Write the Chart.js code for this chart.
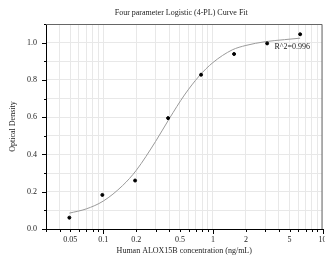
<!DOCTYPE html>
<html>
<head>
<meta charset="utf-8">
<script src="https://cdn.jsdelivr.net/npm/chart.js@4.4.1/dist/chart.umd.min.js"></script>
<style>
  html, body { margin: 0; padding: 0; background: #fff; }
  canvas { display: block; }
</style>
</head>
<body>
<canvas id="chart" width="325" height="266"></canvas>
<script>
// measured standards
const concentrations = [0.049, 0.098, 0.195, 0.39, 0.78, 1.56, 3.125, 6.25]
const odValues = [0.061, 0.183, 0.26, 0.595, 0.828, 0.939, 0.996, 1.045]

// fitted 4-PL curve
const curveX = [0.049, 0.07, 0.1, 0.15, 0.2, 0.3, 0.4, 0.55, 0.75, 1, 1.5, 2, 3, 4.5, 6.25]
const curveY = [0.085, 0.108, 0.15, 0.233, 0.315, 0.47, 0.592, 0.719, 0.821, 0.893, 0.961, 0.985, 1.005, 1.016, 1.024]

// axis ticks
const xGridValues = [0.03, 0.04, 0.05, 0.06, 0.07, 0.08, 0.09, 0.1, 0.2, 0.3, 0.4, 0.5, 0.6, 0.7, 0.8, 0.9,
  1, 2, 3, 4, 5, 6, 7, 8, 9, 10]
const xTickLabels = [0.05, 0.1, 0.2, 0.5, 1, 2, 5, 10]
const xDecades = [0.1, 1, 10]

const titleText = 'Four parameter Logistic (4-PL) Curve Fit'
const xTitle = 'Human ALOX15B concentration (ng/mL)'
const yTitle = 'Optical Density'
const r2Text = 'R^2=0.996'

const FONT = '"Liberation Serif", "Times New Roman", serif'
const TEXT = '#222'

const decorations = {
  id: 'decorations',
  afterDraw(chart) {
    const { ctx, chartArea: a, scales } = chart
    const x = scales.x, y = scales.y
    ctx.save()

    // frame
    ctx.strokeStyle = '#666'
    ctx.lineWidth = 1
    ctx.beginPath()
    ctx.moveTo(a.left, a.top + 0.5)
    ctx.lineTo(a.right - 0.5, a.top + 0.5)
    ctx.lineTo(a.right - 0.5, a.bottom)
    ctx.stroke()

    // tick marks, outside
    ctx.strokeStyle = '#000'
    ctx.beginPath()
    xGridValues.forEach(v => {
      const px = Math.round(x.getPixelForValue(v)) + 0.5
      const len = xDecades.includes(v) ? 5 : 3
      ctx.moveTo(px, a.bottom)
      ctx.lineTo(px, a.bottom + len)
    })
    y.ticks.forEach(t => {
      const py = Math.round(y.getPixelForValue(t.value)) + 0.5
      const major = Math.round(t.value * 10) % 2 === 0
      ctx.moveTo(a.left, py)
      ctx.lineTo(a.left - (major ? 4 : 2), py)
    })
    ctx.stroke()

    // title
    ctx.fillStyle = TEXT
    ctx.font = '8px ' + FONT
    ctx.textAlign = 'center'
    ctx.textBaseline = 'middle'
    ctx.fillText(titleText, (a.left + a.right) / 2 - 3, 13)

    // r squared
    ctx.textAlign = 'left'
    ctx.fillText(r2Text, a.right - 48, a.top + 23)
    ctx.restore()
  }
}

new Chart(document.getElementById('chart'), {
  type: 'scatter',
  data: {
    datasets: [
      {
        label: 'Standards',
        data: concentrations.map((c, i) => ({ x: c, y: odValues[i] })),
        backgroundColor: '#000',
        borderColor: '#000',
        pointRadius: 1.5,
        pointHoverRadius: 1.5,
        order: 1
      },
      {
        label: '4-PL fit',
        data: curveX.map((c, i) => ({ x: c, y: curveY[i] })),
        showLine: true,
        borderColor: '#9a9a9a',
        borderWidth: 1,
        pointRadius: 0,
        cubicInterpolationMode: 'monotone',
        order: 2
      }
    ]
  },
  options: {
    responsive: false,
    animation: false,
    layout: { padding: { top: 24, right: 2, left: 8, bottom: 10 } },
    plugins: {
      legend: { display: false },
      tooltip: { enabled: false },
      title: { display: false }
    },
    scales: {
      x: {
        type: 'logarithmic',
        min: 0.03,
        max: 10,
        afterBuildTicks: scale => {
          scale.ticks = xGridValues.map(v => ({ value: v }))
        },
        afterFit: scale => {
          scale.height = 27
          // let the "10" label run off the edge like the original
          scale.paddingRight = 0
          scale.paddingLeft = 0
        },
        ticks: {
          autoSkip: false,
          maxRotation: 0,
          padding: 6,
          color: TEXT,
          font: { family: FONT, size: 8 },
          callback: v => xTickLabels.includes(v) ? String(v) : ''
        },
        grid: { color: '#e8e8e8', lineWidth: 1, drawTicks: false },
        border: { display: true, color: '#000', width: 1 },
        title: {
          display: true,
          text: xTitle,
          color: TEXT,
          font: { family: FONT, size: 8 },
          padding: { top: 0, bottom: 0 }
        }
      },
      y: {
        min: 0,
        max: 1.1,
        afterFit: scale => { scale.width = 38 },
        ticks: {
          stepSize: 0.1,
          padding: 9,
          color: TEXT,
          font: { family: FONT, size: 8 },
          callback: v => Math.round(v * 10) % 2 === 0 ? v.toFixed(1) : ''
        },
        grid: { color: '#e8e8e8', lineWidth: 1, drawTicks: false },
        border: { display: true, color: '#000', width: 1 },
        title: {
          display: true,
          text: yTitle,
          color: TEXT,
          font: { family: FONT, size: 8 },
          padding: { top: 0, bottom: 0 }
        }
      }
    }
  },
  plugins: [decorations]
})
</script>
</body>
</html>
